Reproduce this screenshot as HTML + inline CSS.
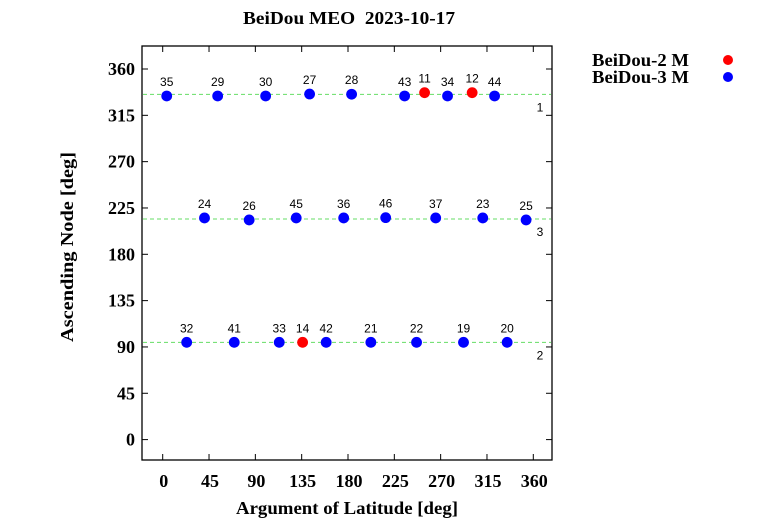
<!DOCTYPE html>
<html><head><meta charset="utf-8">
<style>
body{margin:0;background:#fff;width:779px;height:519px;overflow:hidden}
svg{display:block}
.serif{font-family:"Liberation Serif",serif;font-weight:bold}
.sans{font-family:"Liberation Sans",sans-serif}
</style></head><body>
<svg id="chart" width="779" height="519">
<text class="serif" x="349" y="24" font-size="18" text-anchor="middle" xml:space="preserve" textLength="212" lengthAdjust="spacingAndGlyphs">BeiDou MEO  2023-10-17</text>
<rect x="142" y="46" width="410" height="414" fill="none" stroke="#000" stroke-width="1.3"/>
<g id="ticks"></g>
<g id="planes"></g>
<g id="points"></g>
<text class="serif" x="347" y="514" font-size="18" text-anchor="middle" textLength="222" lengthAdjust="spacingAndGlyphs">Argument of Latitude [deg]</text>
<text class="serif" x="0" y="0" font-size="18" text-anchor="middle" textLength="190" lengthAdjust="spacingAndGlyphs" transform="translate(73,247) rotate(-90)">Ascending Node [deg]</text>
<g>
<text class="serif" x="592" y="66" font-size="18" textLength="97" lengthAdjust="spacingAndGlyphs">BeiDou-2 M</text>
<circle cx="728" cy="60" r="5" fill="#f00"/>
<text class="serif" x="592" y="83" font-size="18" textLength="97" lengthAdjust="spacingAndGlyphs">BeiDou-3 M</text>
<circle cx="728" cy="77" r="5" fill="#00f"/>
</g>
</svg>
<script>
const xTicks=[0,45,90,135,180,225,270,315,360];
const yTicks=[0,45,90,135,180,225,270,315,360];
const planeNames=["1","2","3"];
const planeNodes=[335.4,94.5,214.3];
const satLabels=["35","29","30","27","28","43","11","34","12","44","24","26","45","36","46","37","23","25","32","41","33","14","42","21","22","19","20"];
const satU=[3.9,53.4,100,142.7,183.5,235,254.4,276.7,300.6,322.4,40.6,84,129.7,175.8,216.6,265.2,310.9,353,23.3,69.5,113.2,135.9,158.8,202.2,246.6,292.2,334.6];
const satNode=[333.8,333.8,333.8,335.7,335.5,333.8,337,333.8,337,333.8,215.3,213.4,215.3,215.3,215.6,215.3,215.3,213.4,94.5,94.5,94.5,94.5,94.5,94.5,94.5,94.5,94.5];
const satType=["3","3","3","3","3","3","2","3","2","3","3","3","3","3","3","3","3","3","3","3","3","2","3","3","3","3","3"];
const NS="http://www.w3.org/2000/svg";
const X=v=>162.7+v*(370.6/360);
const Y=v=>439.6-v*(370.6/360);
function mk(t,a,p){const e=document.createElementNS(NS,t);for(const k in a)e.setAttribute(k,a[k]);p.appendChild(e);return e;}
const tg=document.getElementById('ticks');
xTicks.forEach(v=>{
 let l=mk('line',{x1:X(v),x2:X(v),y1:460,y2:454,stroke:'#000'},tg);
 
 
 l=mk('line',{x1:X(v),x2:X(v),y1:46,y2:52,stroke:'#000'},tg);
 
 
 const t=mk('text',{x:X(v)+1,y:487,'font-size':18,'text-anchor':'middle',class:'serif'},tg);
 t.textContent=v;
 
 
});
yTicks.forEach(v=>{
 let l=mk('line',{x1:142,x2:148,y1:Y(v),y2:Y(v),stroke:'#000'},tg);
 
 
 l=mk('line',{x1:552,x2:546,y1:Y(v),y2:Y(v),stroke:'#000'},tg);
 
 
 const t=mk('text',{x:135,y:Y(v)+6,'font-size':18,'text-anchor':'end',class:'serif'},tg);
 t.textContent=v;
 
 
});
const pg=document.getElementById('planes');
planeNodes.forEach((n,i)=>{
 const l=mk('line',{x1:143,x2:551,y1:Y(n),y2:Y(n),stroke:'#66dd66','stroke-width':1,'stroke-dasharray':'4,3'},pg);
 
 
 const t=mk('text',{x:540,y:Y(n)+17,'font-size':12,'text-anchor':'middle',class:'sans'},pg);
 t.textContent=planeNames[i];
 
 
});
const sg=document.getElementById('points');
satLabels.forEach((s,i)=>{
 const c=mk('circle',{cx:X(satU[i]),cy:Y(satNode[i]),r:5.4,fill:satType[i]==="2"?'#f00':'#00f'},sg);
 
 
 const t=mk('text',{x:X(satU[i]),y:Y(satNode[i])-10,'font-size':12,'text-anchor':'middle',class:'sans'},sg);
 t.textContent=s;
 
 
});
</script>
</body></html>
